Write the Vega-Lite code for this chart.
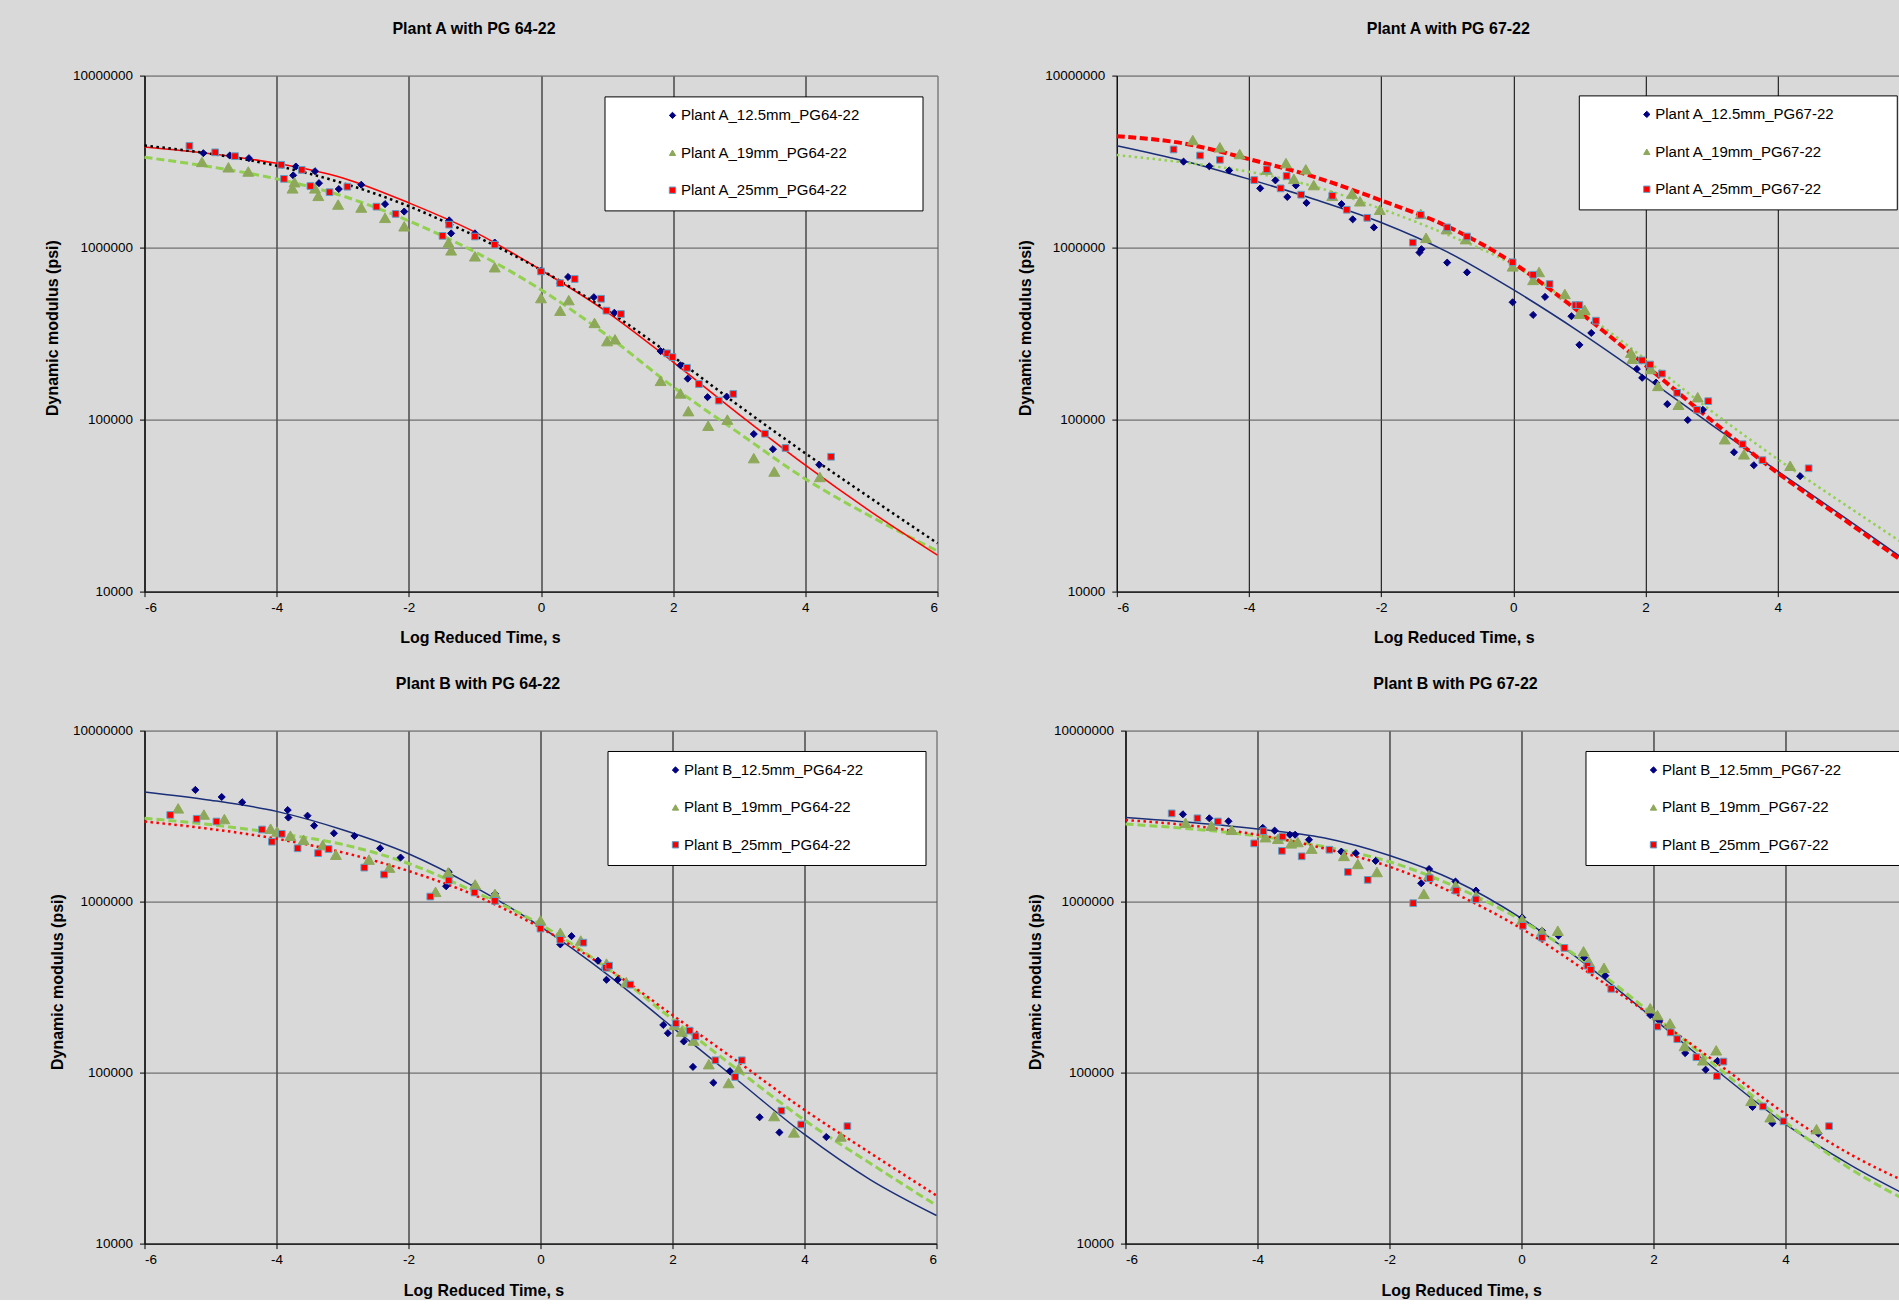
{
"$schema": "https://vega.github.io/schema/vega-lite/v6.json",
"background": "#D9D9D9",
"padding": {"left": 43.5, "top": 20.6, "right": 0, "bottom": 0},
"config": {
  "font": "Liberation Sans",
  "view": {"stroke": "#808080", "strokeWidth": 1},
  "axis": {"labelFont": "Liberation Sans", "labelFontSize": 13.5, "labelColor": "#000", "titleFont": "Liberation Sans", "titleFontSize": 16, "titleFontWeight": "bold", "titleColor": "#000", "titleBaseline": "middle", "titleAlign": "center", "tickSize": 5, "tickColor": "#000", "domainColor": "#111", "domainWidth": 1.2, "grid": true, "gridWidth": 1, "labelPadding": 4},
  "axisY": {"labelPadding": 7},
  "legend": {"title": null, "orient": "none", "fillColor": "#FFFFFF", "strokeColor": "#000000", "padding": 11.5, "rowPadding": 21.4, "symbolSize": 40, "symbolStrokeWidth": 1, "symbolOffset": 49, "labelOffset": 1, "labelFont": "Liberation Sans", "labelFontSize": 15, "labelColor": "#000", "labelLimit": 800},
  "title": {"font": "Liberation Sans", "fontSize": 16, "fontWeight": "bold", "color": "#000"}
},
"datasets": {
"p1": [
{"s":"Plant A_12.5mm_PG64-22","x":-5.11,"E":3540000},{"s":"Plant A_12.5mm_PG64-22","x":-4.71,"E":3430000},{"s":"Plant A_12.5mm_PG64-22","x":-4.42,"E":3310000},{"s":"Plant A_12.5mm_PG64-22","x":-3.75,"E":2630000},{"s":"Plant A_12.5mm_PG64-22","x":-3.71,"E":2960000},{"s":"Plant A_12.5mm_PG64-22","x":-3.42,"E":2780000},{"s":"Plant A_12.5mm_PG64-22","x":-3.36,"E":2370000},{"s":"Plant A_12.5mm_PG64-22","x":-3.06,"E":2190000},{"s":"Plant A_12.5mm_PG64-22","x":-2.72,"E":2320000},{"s":"Plant A_12.5mm_PG64-22","x":-2.36,"E":1790000},{"s":"Plant A_12.5mm_PG64-22","x":-2.07,"E":1620000},{"s":"Plant A_12.5mm_PG64-22","x":-1.39,"E":1440000},{"s":"Plant A_12.5mm_PG64-22","x":-1.36,"E":1210000},{"s":"Plant A_12.5mm_PG64-22","x":-1.0,"E":1210000},{"s":"Plant A_12.5mm_PG64-22","x":-0.7,"E":1070000},{"s":"Plant A_12.5mm_PG64-22","x":0.0,"E":735000},{"s":"Plant A_12.5mm_PG64-22","x":0.29,"E":621000},{"s":"Plant A_12.5mm_PG64-22","x":0.41,"E":675000},{"s":"Plant A_12.5mm_PG64-22","x":0.8,"E":515000},{"s":"Plant A_12.5mm_PG64-22","x":1.11,"E":418000},{"s":"Plant A_12.5mm_PG64-22","x":1.81,"E":250000},{"s":"Plant A_12.5mm_PG64-22","x":2.11,"E":207000},{"s":"Plant A_12.5mm_PG64-22","x":2.22,"E":173000},{"s":"Plant A_12.5mm_PG64-22","x":2.52,"E":135000},{"s":"Plant A_12.5mm_PG64-22","x":2.81,"E":136000},{"s":"Plant A_12.5mm_PG64-22","x":3.22,"E":82400},{"s":"Plant A_12.5mm_PG64-22","x":3.51,"E":67300},{"s":"Plant A_12.5mm_PG64-22","x":4.21,"E":54600},
{"s":"Plant A_19mm_PG64-22","x":-5.13,"E":3150000},{"s":"Plant A_19mm_PG64-22","x":-4.73,"E":2930000},{"s":"Plant A_19mm_PG64-22","x":-4.43,"E":2770000},{"s":"Plant A_19mm_PG64-22","x":-3.76,"E":2210000},{"s":"Plant A_19mm_PG64-22","x":-3.73,"E":2400000},{"s":"Plant A_19mm_PG64-22","x":-3.42,"E":2210000},{"s":"Plant A_19mm_PG64-22","x":-3.37,"E":2000000},{"s":"Plant A_19mm_PG64-22","x":-3.07,"E":1780000},{"s":"Plant A_19mm_PG64-22","x":-2.72,"E":1710000},{"s":"Plant A_19mm_PG64-22","x":-2.36,"E":1490000},{"s":"Plant A_19mm_PG64-22","x":-2.07,"E":1330000},{"s":"Plant A_19mm_PG64-22","x":-1.4,"E":1070000},{"s":"Plant A_19mm_PG64-22","x":-1.36,"E":964000},{"s":"Plant A_19mm_PG64-22","x":-1.0,"E":890000},{"s":"Plant A_19mm_PG64-22","x":-0.7,"E":769000},{"s":"Plant A_19mm_PG64-22","x":0.0,"E":509000},{"s":"Plant A_19mm_PG64-22","x":0.29,"E":430000},{"s":"Plant A_19mm_PG64-22","x":0.42,"E":495000},{"s":"Plant A_19mm_PG64-22","x":0.81,"E":365000},{"s":"Plant A_19mm_PG64-22","x":1.0,"E":286000},{"s":"Plant A_19mm_PG64-22","x":1.12,"E":293000},{"s":"Plant A_19mm_PG64-22","x":1.81,"E":168000},{"s":"Plant A_19mm_PG64-22","x":2.11,"E":142000},{"s":"Plant A_19mm_PG64-22","x":2.23,"E":112000},{"s":"Plant A_19mm_PG64-22","x":2.53,"E":92200},{"s":"Plant A_19mm_PG64-22","x":2.82,"E":100000},{"s":"Plant A_19mm_PG64-22","x":3.22,"E":59700},{"s":"Plant A_19mm_PG64-22","x":3.53,"E":49900},{"s":"Plant A_19mm_PG64-22","x":4.22,"E":46400},
{"s":"Plant A_25mm_PG64-22","x":-5.32,"E":3900000},{"s":"Plant A_25mm_PG64-22","x":-4.93,"E":3580000},{"s":"Plant A_25mm_PG64-22","x":-4.63,"E":3400000},{"s":"Plant A_25mm_PG64-22","x":-3.93,"E":3030000},{"s":"Plant A_25mm_PG64-22","x":-3.89,"E":2510000},{"s":"Plant A_25mm_PG64-22","x":-3.62,"E":2830000},{"s":"Plant A_25mm_PG64-22","x":-3.49,"E":2280000},{"s":"Plant A_25mm_PG64-22","x":-3.2,"E":2100000},{"s":"Plant A_25mm_PG64-22","x":-2.93,"E":2260000},{"s":"Plant A_25mm_PG64-22","x":-2.49,"E":1730000},{"s":"Plant A_25mm_PG64-22","x":-2.2,"E":1570000},{"s":"Plant A_25mm_PG64-22","x":-1.49,"E":1170000},{"s":"Plant A_25mm_PG64-22","x":-1.39,"E":1360000},{"s":"Plant A_25mm_PG64-22","x":-1.0,"E":1160000},{"s":"Plant A_25mm_PG64-22","x":-0.7,"E":1040000},{"s":"Plant A_25mm_PG64-22","x":0.0,"E":727000},{"s":"Plant A_25mm_PG64-22","x":0.29,"E":621000},{"s":"Plant A_25mm_PG64-22","x":0.51,"E":657000},{"s":"Plant A_25mm_PG64-22","x":0.91,"E":504000},{"s":"Plant A_25mm_PG64-22","x":0.99,"E":430000},{"s":"Plant A_25mm_PG64-22","x":1.21,"E":411000},{"s":"Plant A_25mm_PG64-22","x":1.91,"E":243000},{"s":"Plant A_25mm_PG64-22","x":1.99,"E":231000},{"s":"Plant A_25mm_PG64-22","x":2.21,"E":200000},{"s":"Plant A_25mm_PG64-22","x":2.39,"E":161000},{"s":"Plant A_25mm_PG64-22","x":2.69,"E":129000},{"s":"Plant A_25mm_PG64-22","x":2.91,"E":141000},{"s":"Plant A_25mm_PG64-22","x":3.39,"E":82800},{"s":"Plant A_25mm_PG64-22","x":3.7,"E":68400},{"s":"Plant A_25mm_PG64-22","x":4.39,"E":60800}
],
"p2": [
{"s":"Plant A_12.5mm_PG67-22","x":-4.99,"E":3160000},{"s":"Plant A_12.5mm_PG67-22","x":-4.6,"E":2970000},{"s":"Plant A_12.5mm_PG67-22","x":-4.3,"E":2810000},{"s":"Plant A_12.5mm_PG67-22","x":-3.83,"E":2210000},{"s":"Plant A_12.5mm_PG67-22","x":-3.6,"E":2460000},{"s":"Plant A_12.5mm_PG67-22","x":-3.42,"E":1970000},{"s":"Plant A_12.5mm_PG67-22","x":-3.29,"E":2300000},{"s":"Plant A_12.5mm_PG67-22","x":-3.13,"E":1820000},{"s":"Plant A_12.5mm_PG67-22","x":-2.6,"E":1790000},{"s":"Plant A_12.5mm_PG67-22","x":-2.43,"E":1460000},{"s":"Plant A_12.5mm_PG67-22","x":-2.11,"E":1310000},{"s":"Plant A_12.5mm_PG67-22","x":-1.42,"E":936000},{"s":"Plant A_12.5mm_PG67-22","x":-1.39,"E":979000},{"s":"Plant A_12.5mm_PG67-22","x":-1.0,"E":818000},{"s":"Plant A_12.5mm_PG67-22","x":-0.7,"E":718000},{"s":"Plant A_12.5mm_PG67-22","x":-0.01,"E":481000},{"s":"Plant A_12.5mm_PG67-22","x":0.3,"E":406000},{"s":"Plant A_12.5mm_PG67-22","x":0.48,"E":517000},{"s":"Plant A_12.5mm_PG67-22","x":0.88,"E":399000},{"s":"Plant A_12.5mm_PG67-22","x":1.0,"E":272000},{"s":"Plant A_12.5mm_PG67-22","x":1.18,"E":319000},{"s":"Plant A_12.5mm_PG67-22","x":1.87,"E":197000},{"s":"Plant A_12.5mm_PG67-22","x":1.95,"E":175000},{"s":"Plant A_12.5mm_PG67-22","x":2.16,"E":164000},{"s":"Plant A_12.5mm_PG67-22","x":2.33,"E":123000},{"s":"Plant A_12.5mm_PG67-22","x":2.64,"E":99400},{"s":"Plant A_12.5mm_PG67-22","x":2.87,"E":114000},{"s":"Plant A_12.5mm_PG67-22","x":3.34,"E":64600},{"s":"Plant A_12.5mm_PG67-22","x":3.64,"E":54300},{"s":"Plant A_12.5mm_PG67-22","x":4.34,"E":46900},
{"s":"Plant A_19mm_PG67-22","x":-4.85,"E":4220000},{"s":"Plant A_19mm_PG67-22","x":-4.44,"E":3830000},{"s":"Plant A_19mm_PG67-22","x":-4.14,"E":3500000},{"s":"Plant A_19mm_PG67-22","x":-3.73,"E":2840000},{"s":"Plant A_19mm_PG67-22","x":-3.44,"E":3100000},{"s":"Plant A_19mm_PG67-22","x":-3.32,"E":2510000},{"s":"Plant A_19mm_PG67-22","x":-3.14,"E":2850000},{"s":"Plant A_19mm_PG67-22","x":-3.02,"E":2310000},{"s":"Plant A_19mm_PG67-22","x":-2.74,"E":2000000},{"s":"Plant A_19mm_PG67-22","x":-2.44,"E":2060000},{"s":"Plant A_19mm_PG67-22","x":-2.32,"E":1860000},{"s":"Plant A_19mm_PG67-22","x":-2.02,"E":1660000},{"s":"Plant A_19mm_PG67-22","x":-1.4,"E":1570000},{"s":"Plant A_19mm_PG67-22","x":-1.32,"E":1140000},{"s":"Plant A_19mm_PG67-22","x":-1.01,"E":1280000},{"s":"Plant A_19mm_PG67-22","x":-0.72,"E":1120000},{"s":"Plant A_19mm_PG67-22","x":-0.01,"E":778000},{"s":"Plant A_19mm_PG67-22","x":0.3,"E":649000},{"s":"Plant A_19mm_PG67-22","x":0.39,"E":722000},{"s":"Plant A_19mm_PG67-22","x":0.78,"E":538000},{"s":"Plant A_19mm_PG67-22","x":1.0,"E":413000},{"s":"Plant A_19mm_PG67-22","x":1.08,"E":435000},{"s":"Plant A_19mm_PG67-22","x":1.78,"E":245000},{"s":"Plant A_19mm_PG67-22","x":1.8,"E":226000},{"s":"Plant A_19mm_PG67-22","x":2.08,"E":197000},{"s":"Plant A_19mm_PG67-22","x":2.19,"E":157000},{"s":"Plant A_19mm_PG67-22","x":2.5,"E":122000},{"s":"Plant A_19mm_PG67-22","x":2.79,"E":135000},{"s":"Plant A_19mm_PG67-22","x":3.2,"E":76900},{"s":"Plant A_19mm_PG67-22","x":3.49,"E":62800},{"s":"Plant A_19mm_PG67-22","x":4.19,"E":53900},
{"s":"Plant A_25mm_PG67-22","x":-5.14,"E":3720000},{"s":"Plant A_25mm_PG67-22","x":-4.74,"E":3430000},{"s":"Plant A_25mm_PG67-22","x":-4.44,"E":3240000},{"s":"Plant A_25mm_PG67-22","x":-3.92,"E":2470000},{"s":"Plant A_25mm_PG67-22","x":-3.73,"E":2850000},{"s":"Plant A_25mm_PG67-22","x":-3.52,"E":2210000},{"s":"Plant A_25mm_PG67-22","x":-3.43,"E":2610000},{"s":"Plant A_25mm_PG67-22","x":-3.21,"E":2030000},{"s":"Plant A_25mm_PG67-22","x":-2.74,"E":2000000},{"s":"Plant A_25mm_PG67-22","x":-2.52,"E":1660000},{"s":"Plant A_25mm_PG67-22","x":-2.21,"E":1490000},{"s":"Plant A_25mm_PG67-22","x":-1.52,"E":1070000},{"s":"Plant A_25mm_PG67-22","x":-1.4,"E":1550000},{"s":"Plant A_25mm_PG67-22","x":-1.0,"E":1310000},{"s":"Plant A_25mm_PG67-22","x":-0.7,"E":1160000},{"s":"Plant A_25mm_PG67-22","x":-0.01,"E":822000},{"s":"Plant A_25mm_PG67-22","x":0.3,"E":695000},{"s":"Plant A_25mm_PG67-22","x":0.55,"E":614000},{"s":"Plant A_25mm_PG67-22","x":0.94,"E":463000},{"s":"Plant A_25mm_PG67-22","x":1.0,"E":463000},{"s":"Plant A_25mm_PG67-22","x":1.25,"E":376000},{"s":"Plant A_25mm_PG67-22","x":1.95,"E":221000},{"s":"Plant A_25mm_PG67-22","x":2.07,"E":209000},{"s":"Plant A_25mm_PG67-22","x":2.25,"E":185000},{"s":"Plant A_25mm_PG67-22","x":2.48,"E":143000},{"s":"Plant A_25mm_PG67-22","x":2.78,"E":114000},{"s":"Plant A_25mm_PG67-22","x":2.95,"E":128000},{"s":"Plant A_25mm_PG67-22","x":3.47,"E":71900},{"s":"Plant A_25mm_PG67-22","x":3.77,"E":58100},{"s":"Plant A_25mm_PG67-22","x":4.47,"E":52100}
],
"p3": [
{"s":"Plant B_12.5mm_PG64-22","x":-5.23,"E":4500000},{"s":"Plant B_12.5mm_PG64-22","x":-4.83,"E":4090000},{"s":"Plant B_12.5mm_PG64-22","x":-4.52,"E":3810000},{"s":"Plant B_12.5mm_PG64-22","x":-3.83,"E":3430000},{"s":"Plant B_12.5mm_PG64-22","x":-3.82,"E":3100000},{"s":"Plant B_12.5mm_PG64-22","x":-3.53,"E":3180000},{"s":"Plant B_12.5mm_PG64-22","x":-3.43,"E":2780000},{"s":"Plant B_12.5mm_PG64-22","x":-3.13,"E":2510000},{"s":"Plant B_12.5mm_PG64-22","x":-2.82,"E":2420000},{"s":"Plant B_12.5mm_PG64-22","x":-2.43,"E":2050000},{"s":"Plant B_12.5mm_PG64-22","x":-2.12,"E":1810000},{"s":"Plant B_12.5mm_PG64-22","x":-1.43,"E":1230000},{"s":"Plant B_12.5mm_PG64-22","x":-1.39,"E":1490000},{"s":"Plant B_12.5mm_PG64-22","x":-1.0,"E":1240000},{"s":"Plant B_12.5mm_PG64-22","x":-0.69,"E":1110000},{"s":"Plant B_12.5mm_PG64-22","x":0.0,"E":747000},{"s":"Plant B_12.5mm_PG64-22","x":0.3,"E":562000},{"s":"Plant B_12.5mm_PG64-22","x":0.47,"E":628000},{"s":"Plant B_12.5mm_PG64-22","x":0.87,"E":451000},{"s":"Plant B_12.5mm_PG64-22","x":1.0,"E":349000},{"s":"Plant B_12.5mm_PG64-22","x":1.17,"E":349000},{"s":"Plant B_12.5mm_PG64-22","x":1.86,"E":190000},{"s":"Plant B_12.5mm_PG64-22","x":1.93,"E":170000},{"s":"Plant B_12.5mm_PG64-22","x":2.17,"E":152000},{"s":"Plant B_12.5mm_PG64-22","x":2.31,"E":108000},{"s":"Plant B_12.5mm_PG64-22","x":2.62,"E":87300},{"s":"Plant B_12.5mm_PG64-22","x":2.87,"E":102000},{"s":"Plant B_12.5mm_PG64-22","x":3.32,"E":54800},{"s":"Plant B_12.5mm_PG64-22","x":3.62,"E":44700},{"s":"Plant B_12.5mm_PG64-22","x":4.33,"E":42000},
{"s":"Plant B_19mm_PG64-22","x":-5.49,"E":3510000},{"s":"Plant B_19mm_PG64-22","x":-5.1,"E":3230000},{"s":"Plant B_19mm_PG64-22","x":-4.79,"E":3040000},{"s":"Plant B_19mm_PG64-22","x":-4.09,"E":2670000},{"s":"Plant B_19mm_PG64-22","x":-3.99,"E":2570000},{"s":"Plant B_19mm_PG64-22","x":-3.79,"E":2430000},{"s":"Plant B_19mm_PG64-22","x":-3.59,"E":2300000},{"s":"Plant B_19mm_PG64-22","x":-3.3,"E":2140000},{"s":"Plant B_19mm_PG64-22","x":-3.1,"E":1880000},{"s":"Plant B_19mm_PG64-22","x":-2.6,"E":1760000},{"s":"Plant B_19mm_PG64-22","x":-2.29,"E":1580000},{"s":"Plant B_19mm_PG64-22","x":-1.59,"E":1140000},{"s":"Plant B_19mm_PG64-22","x":-1.4,"E":1480000},{"s":"Plant B_19mm_PG64-22","x":-0.99,"E":1260000},{"s":"Plant B_19mm_PG64-22","x":-0.69,"E":1110000},{"s":"Plant B_19mm_PG64-22","x":0.0,"E":776000},{"s":"Plant B_19mm_PG64-22","x":0.3,"E":657000},{"s":"Plant B_19mm_PG64-22","x":0.61,"E":592000},{"s":"Plant B_19mm_PG64-22","x":1.0,"E":434000},{"s":"Plant B_19mm_PG64-22","x":1.3,"E":338000},{"s":"Plant B_19mm_PG64-22","x":2.03,"E":190000},{"s":"Plant B_19mm_PG64-22","x":2.14,"E":174000},{"s":"Plant B_19mm_PG64-22","x":2.32,"E":154000},{"s":"Plant B_19mm_PG64-22","x":2.55,"E":112000},{"s":"Plant B_19mm_PG64-22","x":2.85,"E":86900},{"s":"Plant B_19mm_PG64-22","x":3.0,"E":105000},{"s":"Plant B_19mm_PG64-22","x":3.54,"E":55700},{"s":"Plant B_19mm_PG64-22","x":3.84,"E":44700},{"s":"Plant B_19mm_PG64-22","x":4.55,"E":42300},
{"s":"Plant B_25mm_PG64-22","x":-5.61,"E":3210000},{"s":"Plant B_25mm_PG64-22","x":-5.21,"E":3050000},{"s":"Plant B_25mm_PG64-22","x":-4.91,"E":2940000},{"s":"Plant B_25mm_PG64-22","x":-4.22,"E":2640000},{"s":"Plant B_25mm_PG64-22","x":-4.07,"E":2240000},{"s":"Plant B_25mm_PG64-22","x":-3.92,"E":2490000},{"s":"Plant B_25mm_PG64-22","x":-3.68,"E":2050000},{"s":"Plant B_25mm_PG64-22","x":-3.37,"E":1920000},{"s":"Plant B_25mm_PG64-22","x":-3.21,"E":2030000},{"s":"Plant B_25mm_PG64-22","x":-2.67,"E":1580000},{"s":"Plant B_25mm_PG64-22","x":-2.37,"E":1440000},{"s":"Plant B_25mm_PG64-22","x":-1.67,"E":1070000},{"s":"Plant B_25mm_PG64-22","x":-1.39,"E":1330000},{"s":"Plant B_25mm_PG64-22","x":-1.0,"E":1130000},{"s":"Plant B_25mm_PG64-22","x":-0.69,"E":1010000},{"s":"Plant B_25mm_PG64-22","x":0.0,"E":695000},{"s":"Plant B_25mm_PG64-22","x":0.3,"E":598000},{"s":"Plant B_25mm_PG64-22","x":0.65,"E":575000},{"s":"Plant B_25mm_PG64-22","x":0.99,"E":410000},{"s":"Plant B_25mm_PG64-22","x":1.04,"E":422000},{"s":"Plant B_25mm_PG64-22","x":1.36,"E":327000},{"s":"Plant B_25mm_PG64-22","x":2.05,"E":194000},{"s":"Plant B_25mm_PG64-22","x":2.26,"E":176000},{"s":"Plant B_25mm_PG64-22","x":2.35,"E":163000},{"s":"Plant B_25mm_PG64-22","x":2.65,"E":118000},{"s":"Plant B_25mm_PG64-22","x":2.95,"E":94300},{"s":"Plant B_25mm_PG64-22","x":3.05,"E":118000},{"s":"Plant B_25mm_PG64-22","x":3.65,"E":59900},{"s":"Plant B_25mm_PG64-22","x":3.95,"E":49700},{"s":"Plant B_25mm_PG64-22","x":4.65,"E":48600}
],
"p4": [
{"s":"Plant B_12.5mm_PG67-22","x":-5.13,"E":3240000},{"s":"Plant B_12.5mm_PG67-22","x":-4.73,"E":3070000},{"s":"Plant B_12.5mm_PG67-22","x":-4.44,"E":2950000},{"s":"Plant B_12.5mm_PG67-22","x":-3.92,"E":2700000},{"s":"Plant B_12.5mm_PG67-22","x":-3.74,"E":2600000},{"s":"Plant B_12.5mm_PG67-22","x":-3.51,"E":2460000},{"s":"Plant B_12.5mm_PG67-22","x":-3.43,"E":2460000},{"s":"Plant B_12.5mm_PG67-22","x":-3.22,"E":2300000},{"s":"Plant B_12.5mm_PG67-22","x":-2.73,"E":1960000},{"s":"Plant B_12.5mm_PG67-22","x":-2.51,"E":1920000},{"s":"Plant B_12.5mm_PG67-22","x":-2.21,"E":1730000},{"s":"Plant B_12.5mm_PG67-22","x":-1.52,"E":1280000},{"s":"Plant B_12.5mm_PG67-22","x":-1.4,"E":1550000},{"s":"Plant B_12.5mm_PG67-22","x":-1.0,"E":1310000},{"s":"Plant B_12.5mm_PG67-22","x":-0.69,"E":1160000},{"s":"Plant B_12.5mm_PG67-22","x":0.01,"E":807000},{"s":"Plant B_12.5mm_PG67-22","x":0.31,"E":676000},{"s":"Plant B_12.5mm_PG67-22","x":0.56,"E":632000},{"s":"Plant B_12.5mm_PG67-22","x":0.95,"E":471000},{"s":"Plant B_12.5mm_PG67-22","x":1.01,"E":434000},{"s":"Plant B_12.5mm_PG67-22","x":1.27,"E":369000},{"s":"Plant B_12.5mm_PG67-22","x":1.95,"E":217000},{"s":"Plant B_12.5mm_PG67-22","x":2.09,"E":201000},{"s":"Plant B_12.5mm_PG67-22","x":2.48,"E":130000},{"s":"Plant B_12.5mm_PG67-22","x":2.79,"E":104000},{"s":"Plant B_12.5mm_PG67-22","x":2.97,"E":117000},{"s":"Plant B_12.5mm_PG67-22","x":3.5,"E":63000},{"s":"Plant B_12.5mm_PG67-22","x":3.8,"E":50500},{"s":"Plant B_12.5mm_PG67-22","x":4.5,"E":44000},
{"s":"Plant B_19mm_PG67-22","x":-5.09,"E":2890000},{"s":"Plant B_19mm_PG67-22","x":-4.7,"E":2780000},{"s":"Plant B_19mm_PG67-22","x":-4.39,"E":2630000},{"s":"Plant B_19mm_PG67-22","x":-3.88,"E":2380000},{"s":"Plant B_19mm_PG67-22","x":-3.69,"E":2330000},{"s":"Plant B_19mm_PG67-22","x":-3.49,"E":2190000},{"s":"Plant B_19mm_PG67-22","x":-3.39,"E":2230000},{"s":"Plant B_19mm_PG67-22","x":-3.18,"E":2040000},{"s":"Plant B_19mm_PG67-22","x":-2.69,"E":1850000},{"s":"Plant B_19mm_PG67-22","x":-2.48,"E":1660000},{"s":"Plant B_19mm_PG67-22","x":-2.19,"E":1490000},{"s":"Plant B_19mm_PG67-22","x":-1.48,"E":1110000},{"s":"Plant B_19mm_PG67-22","x":-1.4,"E":1430000},{"s":"Plant B_19mm_PG67-22","x":-1.0,"E":1240000},{"s":"Plant B_19mm_PG67-22","x":-0.69,"E":1080000},{"s":"Plant B_19mm_PG67-22","x":0.01,"E":785000},{"s":"Plant B_19mm_PG67-22","x":0.31,"E":668000},{"s":"Plant B_19mm_PG67-22","x":0.55,"E":676000},{"s":"Plant B_19mm_PG67-22","x":0.94,"E":512000},{"s":"Plant B_19mm_PG67-22","x":1.02,"E":446000},{"s":"Plant B_19mm_PG67-22","x":1.25,"E":410000},{"s":"Plant B_19mm_PG67-22","x":1.95,"E":238000},{"s":"Plant B_19mm_PG67-22","x":2.06,"E":217000},{"s":"Plant B_19mm_PG67-22","x":2.25,"E":194000},{"s":"Plant B_19mm_PG67-22","x":2.47,"E":143000},{"s":"Plant B_19mm_PG67-22","x":2.75,"E":118000},{"s":"Plant B_19mm_PG67-22","x":2.95,"E":135000},{"s":"Plant B_19mm_PG67-22","x":3.48,"E":68400},{"s":"Plant B_19mm_PG67-22","x":3.77,"E":54800},{"s":"Plant B_19mm_PG67-22","x":4.47,"E":46700},
{"s":"Plant B_25mm_PG67-22","x":-5.3,"E":3280000},{"s":"Plant B_25mm_PG67-22","x":-4.91,"E":3070000},{"s":"Plant B_25mm_PG67-22","x":-4.6,"E":2940000},{"s":"Plant B_25mm_PG67-22","x":-4.05,"E":2190000},{"s":"Plant B_25mm_PG67-22","x":-3.91,"E":2580000},{"s":"Plant B_25mm_PG67-22","x":-3.63,"E":1980000},{"s":"Plant B_25mm_PG67-22","x":-3.62,"E":2400000},{"s":"Plant B_25mm_PG67-22","x":-3.33,"E":1840000},{"s":"Plant B_25mm_PG67-22","x":-2.91,"E":2010000},{"s":"Plant B_25mm_PG67-22","x":-2.63,"E":1490000},{"s":"Plant B_25mm_PG67-22","x":-2.33,"E":1340000},{"s":"Plant B_25mm_PG67-22","x":-1.64,"E":979000},{"s":"Plant B_25mm_PG67-22","x":-1.39,"E":1370000},{"s":"Plant B_25mm_PG67-22","x":-0.99,"E":1160000},{"s":"Plant B_25mm_PG67-22","x":-0.69,"E":1030000},{"s":"Plant B_25mm_PG67-22","x":0.02,"E":722000},{"s":"Plant B_25mm_PG67-22","x":0.31,"E":616000},{"s":"Plant B_25mm_PG67-22","x":0.65,"E":536000},{"s":"Plant B_25mm_PG67-22","x":1.0,"E":422000},{"s":"Plant B_25mm_PG67-22","x":1.05,"E":399000},{"s":"Plant B_25mm_PG67-22","x":1.36,"E":309000},{"s":"Plant B_25mm_PG67-22","x":2.06,"E":186000},{"s":"Plant B_25mm_PG67-22","x":2.26,"E":172000},{"s":"Plant B_25mm_PG67-22","x":2.36,"E":157000},{"s":"Plant B_25mm_PG67-22","x":2.65,"E":123000},{"s":"Plant B_25mm_PG67-22","x":2.96,"E":95500},{"s":"Plant B_25mm_PG67-22","x":3.06,"E":116000},{"s":"Plant B_25mm_PG67-22","x":3.66,"E":63400},{"s":"Plant B_25mm_PG67-22","x":3.97,"E":51900},{"s":"Plant B_25mm_PG67-22","x":4.66,"E":48600}
],
"c1": [
{"c":"a","x":-6,"E":3920000},{"c":"a","x":-5,"E":3510000},{"c":"a","x":-4,"E":2990000},{"c":"a","x":-3,"E":2370000},{"c":"a","x":-2,"E":1740000},{"c":"a","x":-1,"E":1170000},{"c":"a","x":0,"E":741000},{"c":"a","x":1,"E":432000},{"c":"a","x":2,"E":232000},{"c":"a","x":3,"E":120000},{"c":"a","x":4,"E":63700},{"c":"a","x":5,"E":34700},{"c":"a","x":6,"E":19100},
{"c":"b","x":-6,"E":3350000},{"c":"b","x":-5,"E":2950000},{"c":"b","x":-4,"E":2510000},{"c":"b","x":-3,"E":1995000},{"c":"b","x":-2,"E":1430000},{"c":"b","x":-1,"E":944000},{"c":"b","x":0,"E":569000},{"c":"b","x":1,"E":309000},{"c":"b","x":2,"E":155000},{"c":"b","x":3,"E":83200},{"c":"b","x":4,"E":45200},{"c":"b","x":5,"E":27200},{"c":"b","x":6,"E":17200},
{"c":"c","x":-6,"E":3840000},{"c":"c","x":-5,"E":3510000},{"c":"c","x":-4,"E":3090000},{"c":"c","x":-3,"E":2540000},{"c":"c","x":-2,"E":1820000},{"c":"c","x":-1,"E":1230000},{"c":"c","x":0,"E":741000},{"c":"c","x":1,"E":422000},{"c":"c","x":2,"E":216000},{"c":"c","x":3,"E":107000},{"c":"c","x":4,"E":54300},{"c":"c","x":5,"E":29000},{"c":"c","x":6,"E":16300}
],
"c2": [
{"c":"a","x":-6,"E":3910000},{"c":"a","x":-5,"E":3200000},{"c":"a","x":-4,"E":2500000},{"c":"a","x":-3,"E":1905000},{"c":"a","x":-2,"E":1400000},{"c":"a","x":-1,"E":944000},{"c":"a","x":0,"E":569000},{"c":"a","x":1,"E":324000},{"c":"a","x":2,"E":176000},{"c":"a","x":3,"E":93300},{"c":"a","x":4,"E":50100},{"c":"a","x":5,"E":27200},{"c":"a","x":6,"E":14600},
{"c":"b","x":-6,"E":3450000},{"c":"b","x":-5,"E":3130000},{"c":"b","x":-4,"E":2760000},{"c":"b","x":-3,"E":2260000},{"c":"b","x":-2,"E":1680000},{"c":"b","x":-1,"E":1190000},{"c":"b","x":0,"E":794000},{"c":"b","x":1,"E":437000},{"c":"b","x":2,"E":224000},{"c":"b","x":3,"E":112000},{"c":"b","x":4,"E":58900},{"c":"b","x":5,"E":32400},{"c":"b","x":6,"E":18000},
{"c":"c","x":-6,"E":4440000},{"c":"c","x":-5,"E":4040000},{"c":"c","x":-4,"E":3270000},{"c":"c","x":-3,"E":2570000},{"c":"c","x":-2,"E":1880000},{"c":"c","x":-1,"E":1330000},{"c":"c","x":0,"E":813000},{"c":"c","x":1,"E":422000},{"c":"c","x":2,"E":207000},{"c":"c","x":3,"E":98900},{"c":"c","x":4,"E":49000},{"c":"c","x":5,"E":26300},{"c":"c","x":6,"E":14000}
],
"c3": [
{"c":"a","x":-6,"E":4380000},{"c":"a","x":-5,"E":3920000},{"c":"a","x":-4,"E":3370000},{"c":"a","x":-3,"E":2630000},{"c":"a","x":-2,"E":1905000},{"c":"a","x":-1,"E":1220000},{"c":"a","x":0,"E":714000},{"c":"a","x":1,"E":378000},{"c":"a","x":2,"E":184000},{"c":"a","x":3,"E":89300},{"c":"a","x":4,"E":43500},{"c":"a","x":5,"E":23600},{"c":"a","x":6,"E":14600},
{"c":"b","x":-6,"E":3070000},{"c":"b","x":-5,"E":2820000},{"c":"b","x":-4,"E":2510000},{"c":"b","x":-3,"E":2160000},{"c":"b","x":-2,"E":1670000},{"c":"b","x":-1,"E":1140000},{"c":"b","x":0,"E":735000},{"c":"b","x":1,"E":410000},{"c":"b","x":2,"E":205000},{"c":"b","x":3,"E":103000},{"c":"b","x":4,"E":52700},{"c":"b","x":5,"E":29400},{"c":"b","x":6,"E":16700},
{"c":"c","x":-6,"E":2940000},{"c":"c","x":-5,"E":2660000},{"c":"c","x":-4,"E":2330000},{"c":"c","x":-3,"E":1940000},{"c":"c","x":-2,"E":1510000},{"c":"c","x":-1,"E":1090000},{"c":"c","x":0,"E":703000},{"c":"c","x":1,"E":410000},{"c":"c","x":2,"E":217000},{"c":"c","x":3,"E":115000},{"c":"c","x":4,"E":60500},{"c":"c","x":5,"E":33800},{"c":"c","x":6,"E":19100}
],
"c4": [
{"c":"a","x":-6,"E":3100000},{"c":"a","x":-5,"E":2900000},{"c":"a","x":-4,"E":2660000},{"c":"a","x":-3,"E":2360000},{"c":"a","x":-2,"E":1860000},{"c":"a","x":-1,"E":1320000},{"c":"a","x":0,"E":798000},{"c":"a","x":1,"E":422000},{"c":"a","x":2,"E":207000},{"c":"a","x":3,"E":99800},{"c":"a","x":4,"E":49900},{"c":"a","x":5,"E":28600},{"c":"a","x":6,"E":17800},
{"c":"b","x":-6,"E":2840000},{"c":"b","x":-5,"E":2660000},{"c":"b","x":-4,"E":2420000},{"c":"b","x":-3,"E":2100000},{"c":"b","x":-2,"E":1710000},{"c":"b","x":-1,"E":1220000},{"c":"b","x":0,"E":776000},{"c":"b","x":1,"E":434000},{"c":"b","x":2,"E":217000},{"c":"b","x":3,"E":105000},{"c":"b","x":4,"E":51300},{"c":"b","x":5,"E":27100},{"c":"b","x":6,"E":16600},
{"c":"c","x":-6,"E":3000000},{"c":"c","x":-5,"E":2780000},{"c":"c","x":-4,"E":2460000},{"c":"c","x":-3,"E":2050000},{"c":"c","x":-2,"E":1600000},{"c":"c","x":-1,"E":1110000},{"c":"c","x":0,"E":695000},{"c":"c","x":1,"E":388000},{"c":"c","x":2,"E":211000},{"c":"c","x":3,"E":111000},{"c":"c","x":4,"E":57300},{"c":"c","x":5,"E":33000},{"c":"c","x":6,"E":21400}
]
},
"vconcat": [
{
"hconcat": [
{
"width": 793, "height": 516,
"title": {"text": "Plant A with PG 64-22", "frame": "group", "anchor": "middle", "dx": -67, "offset": 18.5, "baseline": "alphabetic"},
"encoding": {
  "x": {"field": "x", "type": "quantitative", "scale": {"domain": [-6, 6], "nice": false, "zero": false}, "axis": {"title": "Log Reduced Time, s", "values": [-6,-4,-2,0,2,4,6], "labelExpr": "'' + datum.value", "titleX": 335.5, "titleY": 46, "gridColor": {"condition": {"test": "datum.value == 6", "value": "#808080"}, "value": "#000000"}}},
  "y": {"field": "E", "type": "quantitative", "scale": {"type": "log", "domain": [10000, 10000000], "nice": false}, "axis": {"title": "Dynamic modulus (psi)", "values": [10000,100000,1000000,10000000], "labelExpr": "'' + datum.value", "titleX": -92, "titleY": 252, "gridColor": {"condition": {"test": "datum.value == 10000000", "value": "#808080"}, "value": "#555555"}}}
},
"layer": [
  {"data": {"name": "c1"}, "transform": [{"filter": {"field": "c", "equal": "b"}}], "mark": {"type": "line", "interpolate": "monotone", "color": "#92D050", "strokeWidth": 3, "strokeDash": [8, 4]}},
  {"data": {"name": "c1"}, "transform": [{"filter": {"field": "c", "equal": "c"}}], "mark": {"type": "line", "interpolate": "monotone", "color": "#FF0000", "strokeWidth": 1.5}},
  {"data": {"name": "c1"}, "transform": [{"filter": {"field": "c", "equal": "a"}}], "mark": {"type": "line", "interpolate": "monotone", "color": "#000000", "strokeWidth": 2.5, "strokeDash": [2.5, 3.5]}},
  {"data": {"name": "p1"},
   "encoding": {
     "fill": {"field": "s", "type": "nominal", "scale": {"domain": ["Plant A_12.5mm_PG64-22","Plant A_19mm_PG64-22","Plant A_25mm_PG64-22"], "range": ["#000080","#8EA85A","#FF0000"]}, "legend": {"legendX": 460, "legendY": 20.8, "labelExpr": "datum.label + '            \u200b'"}},
     "stroke": {"field": "s", "type": "nominal", "scale": {"domain": ["Plant A_12.5mm_PG64-22","Plant A_19mm_PG64-22","Plant A_25mm_PG64-22"], "range": ["#000080","#8EA85A","#5BA3C9"]}, "legend": {"legendX": 460, "legendY": 20.8, "labelExpr": "datum.label + '            \u200b'"}},
     "shape": {"field": "s", "type": "nominal", "scale": {"domain": ["Plant A_12.5mm_PG64-22","Plant A_19mm_PG64-22","Plant A_25mm_PG64-22"], "range": ["diamond","triangle-up","square"]}, "legend": {"legendX": 460, "legendY": 20.8, "labelExpr": "datum.label + '            \u200b'"}}
   },
   "layer": [
     {"transform": [{"filter": {"field": "s", "equal": "Plant A_12.5mm_PG64-22"}}], "mark": {"type": "point", "filled": true, "opacity": 1, "size": 50, "strokeWidth": 1}},
     {"transform": [{"filter": {"field": "s", "equal": "Plant A_19mm_PG64-22"}}], "mark": {"type": "point", "filled": true, "opacity": 1, "size": 120, "strokeWidth": 1}},
     {"transform": [{"filter": {"field": "s", "equal": "Plant A_25mm_PG64-22"}}], "mark": {"type": "point", "filled": true, "opacity": 1, "size": 45, "strokeWidth": 1}}
   ]
  }
]
},
{
"width": 793, "height": 516,
"title": {"text": "Plant A with PG 67-22", "frame": "group", "anchor": "middle", "dx": -65, "offset": 18.5, "baseline": "alphabetic"},
"encoding": {
  "x": {"field": "x", "type": "quantitative", "scale": {"domain": [-6, 6], "nice": false, "zero": false}, "axis": {"title": "Log Reduced Time, s", "values": [-6,-4,-2,0,2,4,6], "labelExpr": "'' + datum.value", "titleX": 337, "titleY": 46, "gridColor": {"condition": {"test": "datum.value == 6", "value": "#808080"}, "value": "#000000"}}},
  "y": {"field": "E", "type": "quantitative", "scale": {"type": "log", "domain": [10000, 10000000], "nice": false}, "axis": {"title": "Dynamic modulus (psi)", "values": [10000,100000,1000000,10000000], "labelExpr": "'' + datum.value", "titleX": -91, "titleY": 252, "gridColor": {"condition": {"test": "datum.value == 10000000", "value": "#808080"}, "value": "#555555"}}}
},
"layer": [
  {"data": {"name": "c2"}, "transform": [{"filter": {"field": "c", "equal": "a"}}], "mark": {"type": "line", "interpolate": "monotone", "color": "#1B2F78", "strokeWidth": 1.5}},
  {"data": {"name": "c2"}, "transform": [{"filter": {"field": "c", "equal": "b"}}], "mark": {"type": "line", "interpolate": "monotone", "color": "#92D050", "strokeWidth": 2.5, "strokeDash": [2.5, 3.5]}},
  {"data": {"name": "c2"}, "transform": [{"filter": {"field": "c", "equal": "c"}}], "mark": {"type": "line", "interpolate": "monotone", "color": "#FF0000", "strokeWidth": 4, "strokeDash": [8, 3.5]}},
  {"data": {"name": "p2"},
   "encoding": {
     "fill": {"field": "s", "type": "nominal", "scale": {"domain": ["Plant A_12.5mm_PG67-22","Plant A_19mm_PG67-22","Plant A_25mm_PG67-22"], "range": ["#000080","#8EA85A","#FF0000"]}, "legend": {"legendX": 462, "legendY": 19.8, "labelExpr": "datum.label + '            \u200b'"}},
     "stroke": {"field": "s", "type": "nominal", "scale": {"domain": ["Plant A_12.5mm_PG67-22","Plant A_19mm_PG67-22","Plant A_25mm_PG67-22"], "range": ["#000080","#8EA85A","#5BA3C9"]}, "legend": {"legendX": 462, "legendY": 19.8, "labelExpr": "datum.label + '            \u200b'"}},
     "shape": {"field": "s", "type": "nominal", "scale": {"domain": ["Plant A_12.5mm_PG67-22","Plant A_19mm_PG67-22","Plant A_25mm_PG67-22"], "range": ["diamond","triangle-up","square"]}, "legend": {"legendX": 462, "legendY": 19.8, "labelExpr": "datum.label + '            \u200b'"}}
   },
   "layer": [
     {"transform": [{"filter": {"field": "s", "equal": "Plant A_12.5mm_PG67-22"}}], "mark": {"type": "point", "filled": true, "opacity": 1, "size": 50, "strokeWidth": 1}},
     {"transform": [{"filter": {"field": "s", "equal": "Plant A_19mm_PG67-22"}}], "mark": {"type": "point", "filled": true, "opacity": 1, "size": 120, "strokeWidth": 1}},
     {"transform": [{"filter": {"field": "s", "equal": "Plant A_25mm_PG67-22"}}], "mark": {"type": "point", "filled": true, "opacity": 1, "size": 45, "strokeWidth": 1}}
   ]
  }
]
}
],
"spacing": 179.3, "bounds": "flush",
"resolve": {"scale": {"fill": "independent", "stroke": "independent", "shape": "independent"}}
},
{
"hconcat": [
{
"width": 792, "height": 513,
"title": {"text": "Plant B with PG 64-22", "frame": "group", "anchor": "middle", "dx": -62.5, "offset": 18.5, "baseline": "alphabetic"},
"encoding": {
  "x": {"field": "x", "type": "quantitative", "scale": {"domain": [-6, 6], "nice": false, "zero": false}, "axis": {"title": "Log Reduced Time, s", "values": [-6,-4,-2,0,2,4,6], "labelExpr": "'' + datum.value", "titleX": 339, "titleY": 47, "gridColor": {"condition": {"test": "datum.value == 6", "value": "#808080"}, "value": "#000000"}}},
  "y": {"field": "E", "type": "quantitative", "scale": {"type": "log", "domain": [10000, 10000000], "nice": false}, "axis": {"title": "Dynamic modulus (psi)", "values": [10000,100000,1000000,10000000], "labelExpr": "'' + datum.value", "titleX": -87, "titleY": 251, "gridColor": {"condition": {"test": "datum.value == 10000000", "value": "#808080"}, "value": "#555555"}}}
},
"layer": [
  {"data": {"name": "c3"}, "transform": [{"filter": {"field": "c", "equal": "a"}}], "mark": {"type": "line", "interpolate": "monotone", "color": "#1B2F78", "strokeWidth": 1.5}},
  {"data": {"name": "c3"}, "transform": [{"filter": {"field": "c", "equal": "b"}}], "mark": {"type": "line", "interpolate": "monotone", "color": "#92D050", "strokeWidth": 3, "strokeDash": [8, 4]}},
  {"data": {"name": "c3"}, "transform": [{"filter": {"field": "c", "equal": "c"}}], "mark": {"type": "line", "interpolate": "monotone", "color": "#FF0000", "strokeWidth": 2.5, "strokeDash": [2.5, 3.5]}},
  {"data": {"name": "p3"},
   "encoding": {
     "fill": {"field": "s", "type": "nominal", "scale": {"domain": ["Plant B_12.5mm_PG64-22","Plant B_19mm_PG64-22","Plant B_25mm_PG64-22"], "range": ["#000080","#8EA85A","#FF0000"]}, "legend": {"legendX": 463, "legendY": 20.4, "labelExpr": "datum.label + '            \u200b'"}},
     "stroke": {"field": "s", "type": "nominal", "scale": {"domain": ["Plant B_12.5mm_PG64-22","Plant B_19mm_PG64-22","Plant B_25mm_PG64-22"], "range": ["#000080","#8EA85A","#5BA3C9"]}, "legend": {"legendX": 463, "legendY": 20.4, "labelExpr": "datum.label + '            \u200b'"}},
     "shape": {"field": "s", "type": "nominal", "scale": {"domain": ["Plant B_12.5mm_PG64-22","Plant B_19mm_PG64-22","Plant B_25mm_PG64-22"], "range": ["diamond","triangle-up","square"]}, "legend": {"legendX": 463, "legendY": 20.4, "labelExpr": "datum.label + '            \u200b'"}}
   },
   "layer": [
     {"transform": [{"filter": {"field": "s", "equal": "Plant B_12.5mm_PG64-22"}}], "mark": {"type": "point", "filled": true, "opacity": 1, "size": 50, "strokeWidth": 1}},
     {"transform": [{"filter": {"field": "s", "equal": "Plant B_19mm_PG64-22"}}], "mark": {"type": "point", "filled": true, "opacity": 1, "size": 120, "strokeWidth": 1}},
     {"transform": [{"filter": {"field": "s", "equal": "Plant B_25mm_PG64-22"}}], "mark": {"type": "point", "filled": true, "opacity": 1, "size": 45, "strokeWidth": 1}}
   ]
  }
]
},
{
"width": 792, "height": 513,
"title": {"text": "Plant B with PG 67-22", "frame": "group", "anchor": "middle", "dx": -66, "offset": 18.5, "baseline": "alphabetic"},
"encoding": {
  "x": {"field": "x", "type": "quantitative", "scale": {"domain": [-6, 6], "nice": false, "zero": false}, "axis": {"title": "Log Reduced Time, s", "values": [-6,-4,-2,0,2,4,6], "labelExpr": "'' + datum.value", "titleX": 335.7, "titleY": 47, "gridColor": {"condition": {"test": "datum.value == 6", "value": "#808080"}, "value": "#000000"}}},
  "y": {"field": "E", "type": "quantitative", "scale": {"type": "log", "domain": [10000, 10000000], "nice": false}, "axis": {"title": "Dynamic modulus (psi)", "values": [10000,100000,1000000,10000000], "labelExpr": "'' + datum.value", "titleX": -90, "titleY": 251, "gridColor": {"condition": {"test": "datum.value == 10000000", "value": "#808080"}, "value": "#555555"}}}
},
"layer": [
  {"data": {"name": "c4"}, "transform": [{"filter": {"field": "c", "equal": "a"}}], "mark": {"type": "line", "interpolate": "monotone", "color": "#1B2F78", "strokeWidth": 1.5}},
  {"data": {"name": "c4"}, "transform": [{"filter": {"field": "c", "equal": "b"}}], "mark": {"type": "line", "interpolate": "monotone", "color": "#92D050", "strokeWidth": 3, "strokeDash": [8, 4]}},
  {"data": {"name": "c4"}, "transform": [{"filter": {"field": "c", "equal": "c"}}], "mark": {"type": "line", "interpolate": "monotone", "color": "#FF0000", "strokeWidth": 2.5, "strokeDash": [2.5, 3.5]}},
  {"data": {"name": "p4"},
   "encoding": {
     "fill": {"field": "s", "type": "nominal", "scale": {"domain": ["Plant B_12.5mm_PG67-22","Plant B_19mm_PG67-22","Plant B_25mm_PG67-22"], "range": ["#000080","#8EA85A","#FF0000"]}, "legend": {"legendX": 460, "legendY": 20.4, "labelExpr": "datum.label + '            \u200b'"}},
     "stroke": {"field": "s", "type": "nominal", "scale": {"domain": ["Plant B_12.5mm_PG67-22","Plant B_19mm_PG67-22","Plant B_25mm_PG67-22"], "range": ["#000080","#8EA85A","#5BA3C9"]}, "legend": {"legendX": 460, "legendY": 20.4, "labelExpr": "datum.label + '            \u200b'"}},
     "shape": {"field": "s", "type": "nominal", "scale": {"domain": ["Plant B_12.5mm_PG67-22","Plant B_19mm_PG67-22","Plant B_25mm_PG67-22"], "range": ["diamond","triangle-up","square"]}, "legend": {"legendX": 460, "legendY": 20.4, "labelExpr": "datum.label + '            \u200b'"}}
   },
   "layer": [
     {"transform": [{"filter": {"field": "s", "equal": "Plant B_12.5mm_PG67-22"}}], "mark": {"type": "point", "filled": true, "opacity": 1, "size": 50, "strokeWidth": 1}},
     {"transform": [{"filter": {"field": "s", "equal": "Plant B_19mm_PG67-22"}}], "mark": {"type": "point", "filled": true, "opacity": 1, "size": 120, "strokeWidth": 1}},
     {"transform": [{"filter": {"field": "s", "equal": "Plant B_25mm_PG67-22"}}], "mark": {"type": "point", "filled": true, "opacity": 1, "size": 45, "strokeWidth": 1}}
   ]
  }
]
}
],
"spacing": 189, "bounds": "flush",
"resolve": {"scale": {"fill": "independent", "stroke": "independent", "shape": "independent"}}
}
],
"spacing": 29,
"resolve": {"scale": {"fill": "independent", "stroke": "independent", "shape": "independent"}}
}
